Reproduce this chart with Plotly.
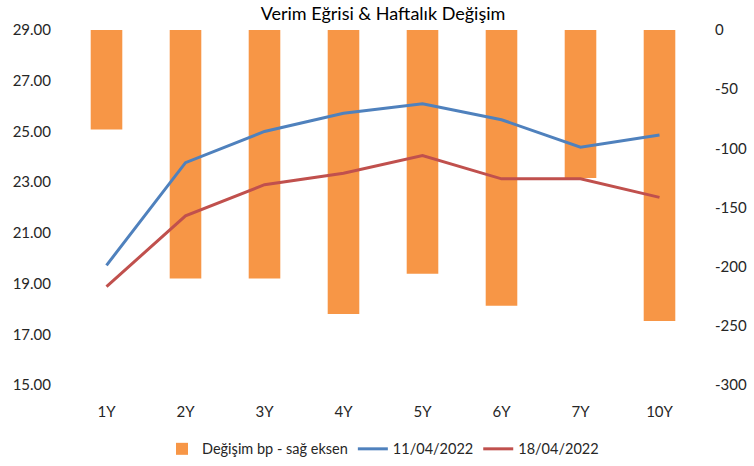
import plotly.graph_objects as go

categories = ["1Y", "2Y", "3Y", "4Y", "5Y", "6Y", "7Y", "10Y"]
change_bp = [-84, -210, -210, -240, -206, -233, -125, -246]
yield_1104 = [19.72, 23.77, 25.00, 25.72, 26.09, 25.46, 24.38, 24.86]
yield_1804 = [18.88, 21.67, 22.90, 23.35, 24.05, 23.13, 23.13, 22.40]

left_ticks = [15, 17, 19, 21, 23, 25, 27, 29]
right_ticks = [0, -50, -100, -150, -200, -250, -300]

FONT = "Lato"
TXT = "#262626"

fig = go.Figure()
fig.add_trace(go.Bar(
    x=categories, y=change_bp, name="Değişim bp - sağ eksen",
    marker=dict(color="#F79646", line=dict(width=0)), yaxis="y",
))
fig.add_trace(go.Scatter(
    x=categories, y=yield_1104, name="11/04/2022", mode="lines",
    line=dict(color="#4F81BD", width=3), yaxis="y2",
))
fig.add_trace(go.Scatter(
    x=categories, y=yield_1804, name="18/04/2022", mode="lines",
    line=dict(color="#C0504D", width=3), yaxis="y2",
))

fig.update_layout(
    width=754, height=466,
    margin=dict(l=66.5, r=54.5, t=30, b=80.5, autoexpand=False),
    paper_bgcolor="white", plot_bgcolor="white",
    font=dict(family=FONT, size=15, color=TXT),
    title=dict(text="Verim Eğrisi & Haftalık Değişim", x=0.5, xanchor="center",
               y=1 - 14 / 466, yref="container", yanchor="middle", xref="paper",
               automargin=False,
               font=dict(family=FONT, size=18, color="#000000")),
    bargap=0.6,
    showlegend=True,
    legend=dict(orientation="h", x=0.5, xanchor="center", y=-0.18, yanchor="middle",
                font=dict(family=FONT, size=14.5, color=TXT), traceorder="normal",
                itemwidth=30),
    xaxis=dict(showgrid=False, zeroline=False, showline=False, automargin=False,
               ticks="outside", ticklen=13, tickcolor="rgba(0,0,0,0)",
               tickfont=dict(family=FONT, size=15, color=TXT)),
    yaxis=dict(side="right", range=[-300, 0], tickvals=right_ticks,
               ticktext=[str(v) for v in right_ticks], automargin=False,
               showgrid=False, zeroline=False, showline=False,
               ticks="outside", ticklen=12, tickcolor="rgba(0,0,0,0)",
               tickfont=dict(family=FONT, size=15, color=TXT)),
    yaxis2=dict(side="left", overlaying="y", range=[15, 29], tickvals=left_ticks,
                tickformat=".2f", showgrid=False, zeroline=False, showline=False,
                automargin=False,
                ticks="outside", ticklen=12, tickcolor="rgba(0,0,0,0)",
                tickfont=dict(family=FONT, size=15, color=TXT)),
)

fig.write_html(
    "out.html",
    config={"displayModeBar": False},
    post_script="document.body.style.margin='0px';document.body.style.overflow='hidden';",
)
